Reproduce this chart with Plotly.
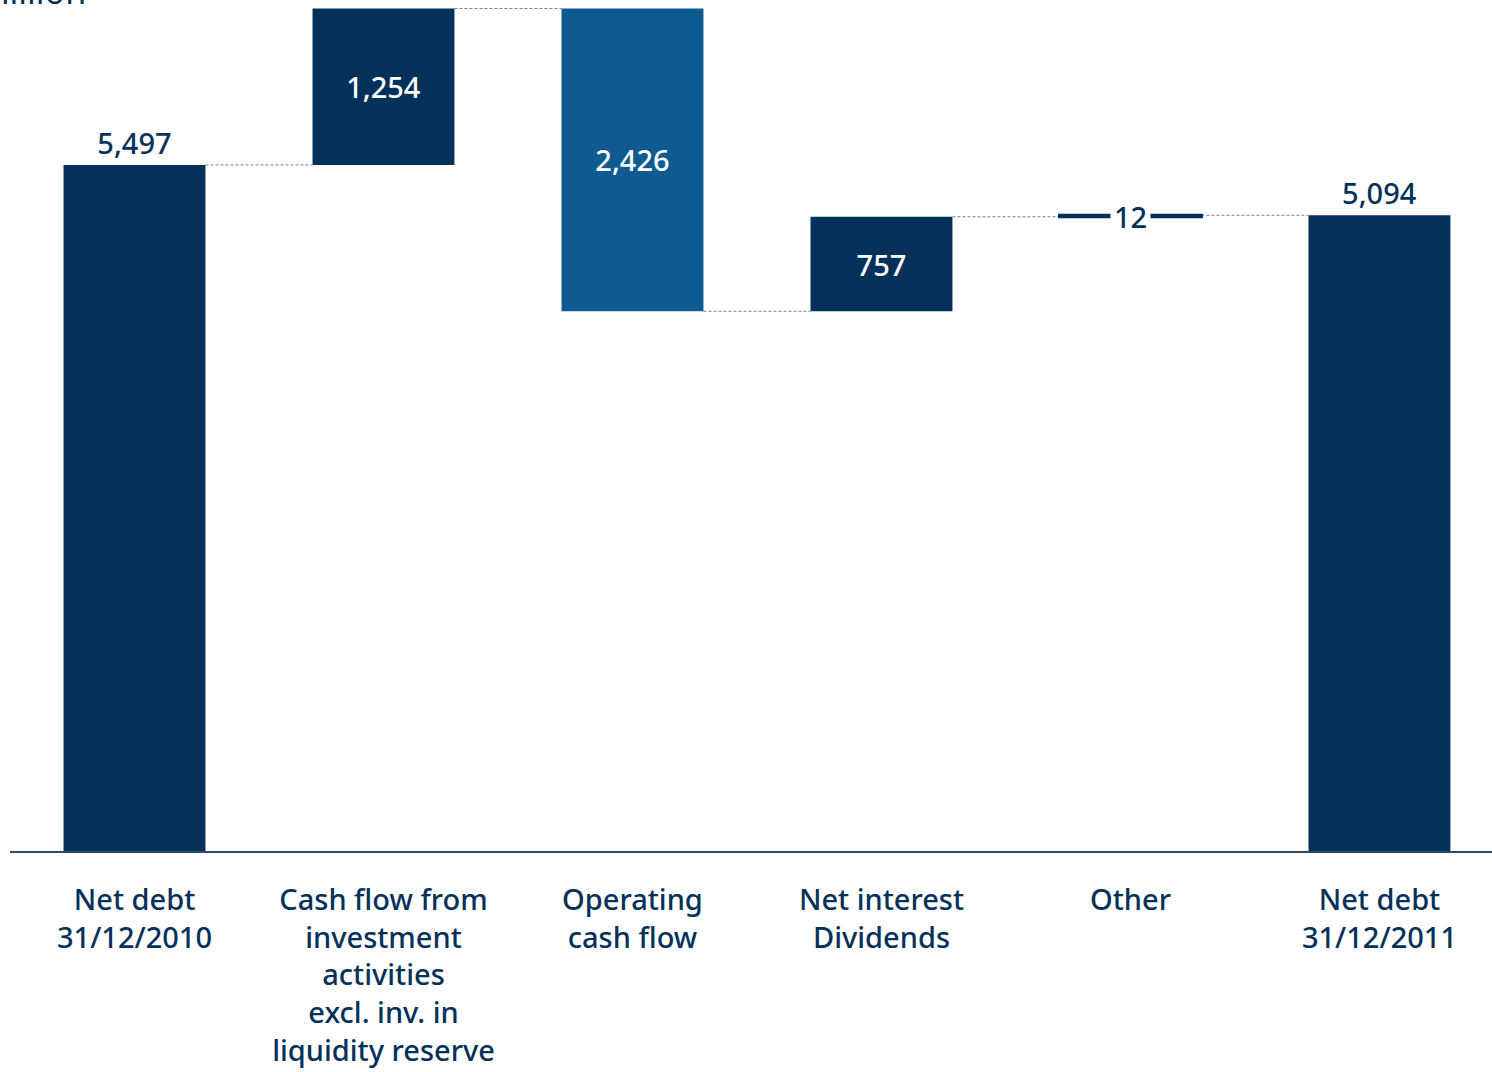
import plotly.graph_objects as go

NAVY = "#03315A"
MID_BLUE = "#0E5A91"

categories = [
    "Net debt<br>31/12/2010",
    "Cash flow from<br>investment<br>activities<br>excl. inv. in<br>liquidity reserve",
    "Operating<br>cash flow",
    "Net interest<br>Dividends",
    "Other",
    "Net debt<br>31/12/2011",
]
start_value = 5497
changes = [1254, -2426, 757, 12]
end_value = 5094
labels = ["5,497", "1,254", "2,426", "757", "12", "5,094"]

# running levels for the floating bars
levels = [start_value]
for c in changes:
    levels.append(levels[-1] + c)

bases = [0]
heights = [start_value]
for i, c in enumerate(changes):
    bases.append(min(levels[i], levels[i + 1]))
    heights.append(abs(c))
bases.append(0)
heights.append(end_value)

colors = [NAVY, NAVY, MID_BLUE, NAVY, NAVY, NAVY]
line_w = [0, 0, 0, 0, 3, 0]
text_pos = ["outside", "inside", "inside", "inside", "none", "outside"]

BAR_W = 0.57
FONT = "Noto Sans"

fig = go.Figure(
    go.Bar(
        x=list(range(len(categories))),
        y=heights,
        base=bases,
        width=BAR_W,
        marker=dict(color=colors, line=dict(color=colors, width=line_w)),
        text=labels,
        textposition=text_pos,
        insidetextanchor="middle",
        constraintext="none",
        cliponaxis=False,
        insidetextfont=dict(color="white", size=29, family=FONT, weight=500),
        outsidetextfont=dict(color=NAVY, size=29, family=FONT, weight=500),
        hoverinfo="skip",
    )
)

# dashed connectors between consecutive bars
conn_levels = levels + [end_value]
for i in range(len(categories) - 1):
    fig.add_shape(
        type="line",
        xref="x", yref="y",
        x0=i + BAR_W / 2, x1=i + 1 - BAR_W / 2,
        y0=conn_levels[i], y1=conn_levels[i],
        line=dict(color="#6F85A0", width=1, dash="3px,2px"),
        layer="below",
    )

# label on the thin "Other" bar
fig.add_annotation(
    x=4, y=levels[4] - 6, text=labels[4], showarrow=False,
    font=dict(color=NAVY, size=29, family=FONT, weight=500),
    bgcolor="white", borderpad=3,
)

# unit label, cut off at the top-left like the source
fig.add_annotation(
    xref="paper", yref="paper", x=78 / 1482, y=1 - 16 / 851,
    xanchor="right", yanchor="bottom", text="EUR million", showarrow=False,
    font=dict(color=NAVY, size=34, family=FONT),
)

fig.update_layout(
    width=1492, height=1072,
    paper_bgcolor="white", plot_bgcolor="white",
    margin=dict(l=10, r=0, t=0, b=221),
    showlegend=False,
    font=dict(family=FONT, color=NAVY),
    xaxis=dict(
        tickmode="array",
        tickvals=list(range(len(categories))),
        ticktext=categories,
        range=[-0.5, 5.452],
        showgrid=False, zeroline=False,
        showline=True, linecolor="#2B4A6B", linewidth=2,
        ticks="", ticklabelstandoff=22,
        tickfont=dict(size=29, color=NAVY, family=FONT, weight=500),
    ),
    yaxis=dict(range=[0, 6819], visible=False),
)

fig.write_html(
    "out.html",
    config={"displayModeBar": False},
    post_script="document.body.style.margin='0';",
)
